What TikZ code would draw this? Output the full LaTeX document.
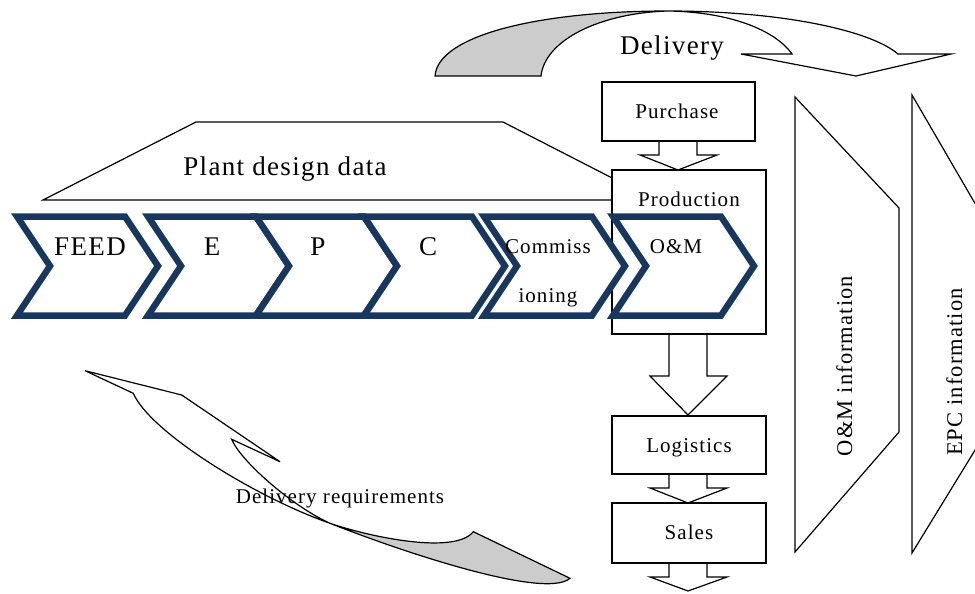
\documentclass[tikz,border=0pt]{standalone}
\usepackage{fontspec}
\setmainfont{Liberation Serif}[LetterSpace=5]
\definecolor{navy}{RGB}{23,55,94}
\definecolor{band}{RGB}{204,204,204}
\begin{document}
\begin{tikzpicture}[x=1pt,y=-1pt,
  ln/.style={draw=black, line width=1.2pt, line join=miter},
  chev/.style={draw=navy, line width=6.5pt, fill=white, line join=miter},
  big/.style={font=\fontsize{27}{30}\selectfont, inner sep=0pt, anchor=base},
  small/.style={font=\fontsize{21}{24}\selectfont, inner sep=0pt, anchor=base},
  side/.style={font=\fontsize{22.5}{26}\selectfont, inner sep=0pt, anchor=base, rotate=90}]
\useasboundingbox (0,0) rectangle (975,594);

% ---- top curved arrow "Delivery"
\fill[band] (435,76) .. controls (438,35) and (540,11) .. (668,11)
   .. controls (600,13) and (545,40) .. (541,76) -- cycle;
\draw[ln] (435,76) .. controls (438,35) and (540,11) .. (668,11)
   .. controls (780,11) and (870,30) .. (898,54) -- (951,54) -- (856,76) -- (741,54) -- (792,54)
   .. controls (775,30) and (730,12) .. (668,11)
   .. controls (600,13) and (545,40) .. (541,76) -- cycle;
\node[big] (delivery) at (672,55) {Delivery};

% ---- Plant design data trapezoid
\draw[ln] (43,200) -- (196,122) -- (503,122) -- (655,200) -- cycle;
\node[big] (plant) at (285,175) {Plant design data};

% ---- middle column
\draw[ln, fill=white] (612,170) rectangle (766,334);
\node[small] (production) at (689,206) {Production};
\draw[ln] (602,82) rectangle (755,141);
\node[small] (purchase) at (677,118) {Purchase};
\draw[ln] (659,141) -- (659,155) -- (640,155) -- (678,170) -- (717,155) -- (697,155) -- (697,141);
\draw[ln] (669,334) -- (669,376) -- (650,376) -- (688,415) -- (727,376) -- (707,376) -- (707,334);
\draw[ln] (612,416) rectangle (766,474);
\node[small] (logistics) at (689,452) {Logistics};
\draw[ln] (669,474) -- (669,488) -- (650,488) -- (688,503) -- (727,488) -- (707,488) -- (707,474);
\draw[ln] (612,503) rectangle (766,563);
\node[small] (sales) at (689,539) {Sales};
\draw[ln] (669,563) -- (669,577) -- (650,577) -- (688,591) -- (727,577) -- (707,577) -- (707,563);

% ---- chevrons
\foreach \L in {17,148,256,364,484,613}{
  \draw[chev] (\L,216.5) -- ({\L+108},216.5) -- ({\L+141},266) -- ({\L+108},315.5)
     -- (\L,315.5) -- ({\L+33},266) -- cycle;
}
\node[big] (feed) at (90,255) {FEED};
\node[big] (e) at (212,255) {E};
\node[big] (p) at (318,255) {P};
\node[big] (c) at (428,255) {C};
\node[small] (comm1) at (548,253.5) {Commiss};
\node[small] (comm2) at (548,302.5) {ioning};
\node[small] (om) at (676,253.5) {O\&M};

% ---- right trapezoids
\draw[ln] (795,97) -- (899,208) -- (899,432) -- (795,552) -- cycle;
\node[side] (ominfo) at (852,366) {O\&M information};
\draw[ln] (980,212) -- (912,95) -- (912,553) -- (980,442);
\node[side] (epcinfo) at (962,372) {EPC information};

% ---- lower curved arrow "Delivery requirements"
\fill[band] (330,523.3) .. controls (370,537) and (455,555) .. (473.3,531.7) -- (570,578.3)
   .. controls (545,600) and (400,551) .. (330,523.3) -- cycle;
\draw[ln] (330,523.3) .. controls (370,537) and (455,555) .. (473.3,531.7) -- (570,578.3)
   .. controls (545,600) and (400,551) .. (330,523.3);
\draw[ln] (85,370.7) -- (133.3,393.3) .. controls (150,432) and (255,497) .. (330,523.3)
   .. controls (290,505) and (240,460) .. (231.7,439.3) -- (280,461.7) -- (181.7,395) -- cycle;
\node[small] (delreq) at (340,503.3) {Delivery requirements};
\end{tikzpicture}
\end{document}
